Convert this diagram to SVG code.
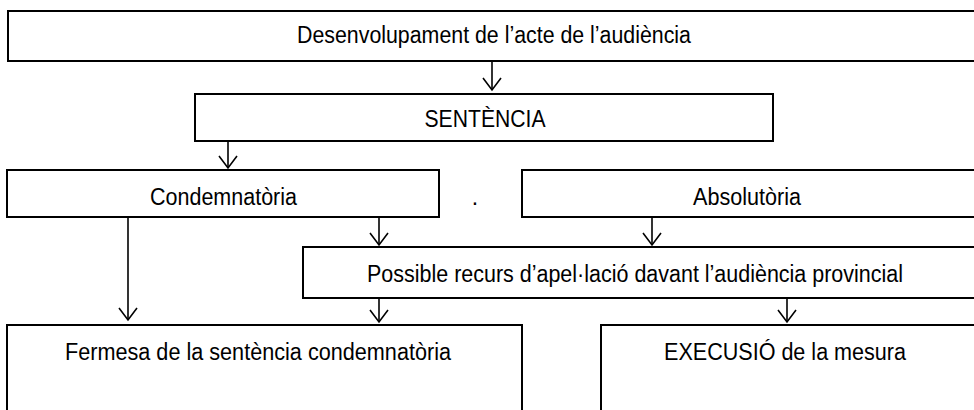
<svg xmlns="http://www.w3.org/2000/svg" width="974" height="410" viewBox="0 0 974 410">
<defs>
<style>
.box{fill:#fff;stroke:#000;stroke-width:2}
.t{font-family:"Liberation Sans",Arial,sans-serif;font-size:23px;fill:#000;text-anchor:middle}
.c{fill:none;stroke:#000;stroke-width:1.6}
</style>
<marker id="ah" markerUnits="userSpaceOnUse" markerWidth="16" markerHeight="22" refX="13" refY="11" orient="auto" viewBox="0 0 16 22">
<path d="M1,2 L13,11 L1,20" fill="none" stroke="#000" stroke-width="1.6"/>
</marker>
</defs>
<rect width="974" height="410" fill="#fff"/>
<g id="n-desenvolupament"><rect class="box" x="8" y="11" width="990" height="50"/><text class="t" x="494" y="43" textLength="394" lengthAdjust="spacingAndGlyphs">Desenvolupament de l’acte de l’audiència</text></g>
<g id="n-sentencia"><rect class="box" x="195" y="94" width="578" height="47"/><text class="t" x="485" y="127" textLength="121" lengthAdjust="spacingAndGlyphs">SENTÈNCIA</text></g>
<g id="n-condemnatoria"><rect class="box" x="7" y="170" width="432" height="47"/><text class="t" x="223.5" y="205" textLength="147" lengthAdjust="spacingAndGlyphs">Condemnatòria</text></g>
<g id="n-dot"><text class="t" x="475" y="205">.</text></g>
<g id="n-absolutoria"><rect class="box" x="522" y="170" width="470" height="47"/><text class="t" x="747" y="205" textLength="108" lengthAdjust="spacingAndGlyphs">Absolutòria</text></g>
<g id="n-recurs"><rect class="box" x="303" y="247" width="690" height="51"/><text class="t" x="367" y="282" style="text-anchor:start" textLength="536" lengthAdjust="spacingAndGlyphs">Possible recurs d’apel·lació davant l’audiència provincial</text></g>
<g id="n-fermesa"><rect class="box" x="7" y="325" width="515" height="110"/><text class="t" x="258" y="360" textLength="386" lengthAdjust="spacingAndGlyphs">Fermesa de la sentència condemnatòria</text></g>
<g id="n-execusio"><rect class="box" x="601" y="325" width="390" height="110"/><text class="t" x="785" y="360" textLength="242" lengthAdjust="spacingAndGlyphs">EXECUSIÓ de la mesura</text></g>
<g id="connectors">
<line class="c" x1="492" y1="62" x2="492" y2="90" marker-end="url(#ah)"/>
<line class="c" x1="228" y1="142" x2="228" y2="168" marker-end="url(#ah)"/>
<line class="c" x1="379" y1="218" x2="379" y2="245" marker-end="url(#ah)"/>
<line class="c" x1="652" y1="218" x2="652" y2="245" marker-end="url(#ah)"/>
<line class="c" x1="128" y1="218" x2="128" y2="320" marker-end="url(#ah)"/>
<line class="c" x1="379" y1="299" x2="379" y2="322" marker-end="url(#ah)"/>
<line class="c" x1="787" y1="299" x2="787" y2="322" marker-end="url(#ah)"/>
</g>
</svg>
